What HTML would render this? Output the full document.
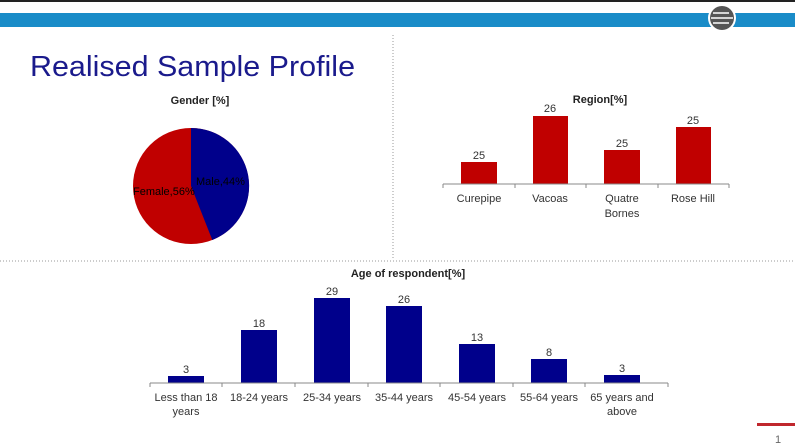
<!DOCTYPE html>
<html><head><style>
body{margin:0;background:#fff}
svg{display:block}
text{font-family:"Liberation Sans",sans-serif}
</style></head><body>
<svg width="795" height="447" viewBox="0 0 795 447">
<rect x="0" y="0" width="795" height="2" fill="#222"/>
<rect x="0" y="13" width="795" height="14" fill="#1a8cc8"/>
<circle cx="722" cy="18" r="14" fill="#fff"/>
<circle cx="722" cy="18" r="12" fill="#555"/>
<g stroke="#fff" stroke-width="1.5"><line x1="713" y1="13" x2="729" y2="13"/><line x1="711" y1="18" x2="733" y2="18"/><line x1="713" y1="23" x2="729" y2="23"/></g>
<line x1="393" y1="35" x2="393" y2="258" stroke="#999" stroke-dasharray="1,2"/>
<line x1="0" y1="261" x2="795" y2="261" stroke="#999" stroke-dasharray="1,2"/>
<text x="30" y="76" font-size="29" fill="#1a1a8c" textLength="325" lengthAdjust="spacingAndGlyphs">Realised Sample Profile</text>
<text x="200" y="104" font-size="11" font-weight="bold" text-anchor="middle" fill="#222">Gender [%]</text>
<circle cx="191" cy="186" r="58" fill="#c00000"/>
<path d="M191,186 L191,128 A58,58 0 0 1 212.3,240 Z" fill="#00008b"/>
<text x="196" y="185" font-size="11" fill="#000">Male,44%</text>
<text x="133" y="195" font-size="11" fill="#000">Female,56%</text>
<text x="600" y="103" font-size="11" font-weight="bold" text-anchor="middle" fill="#222">Region[%]</text>
<g fill="#c00000">
<rect x="461" y="162" width="36" height="22"/><rect x="533" y="116" width="35" height="68"/>
<rect x="604" y="150" width="36" height="34"/><rect x="676" y="127" width="35" height="57"/>
</g>
<g font-size="11" fill="#333" text-anchor="middle">
<text x="479" y="159">25</text><text x="550" y="112">26</text><text x="622" y="147">25</text><text x="693" y="124">25</text>
<text x="479" y="202">Curepipe</text><text x="550" y="202">Vacoas</text><text x="622" y="202">Quatre</text><text x="622" y="217">Bornes</text><text x="693" y="202">Rose Hill</text>
</g>
<g stroke="#888"><line x1="443" y1="184" x2="729" y2="184"/>
<line x1="443" y1="184" x2="443" y2="188"/><line x1="515" y1="184" x2="515" y2="188"/><line x1="586" y1="184" x2="586" y2="188"/><line x1="658" y1="184" x2="658" y2="188"/><line x1="729" y1="184" x2="729" y2="188"/></g>
<text x="408" y="277" font-size="11" font-weight="bold" text-anchor="middle" fill="#222">Age of respondent[%]</text>
<g fill="#00008b">
<rect x="168" y="376" width="36" height="7"/><rect x="241" y="330" width="36" height="53"/>
<rect x="314" y="298" width="36" height="85"/><rect x="386" y="306" width="36" height="77"/>
<rect x="459" y="344" width="36" height="39"/><rect x="531" y="359" width="36" height="24"/>
<rect x="604" y="375" width="36" height="8"/>
</g>
<g font-size="11" fill="#333" text-anchor="middle">
<text x="186" y="373">3</text><text x="259" y="327">18</text><text x="332" y="295">29</text><text x="404" y="303">26</text><text x="477" y="341">13</text><text x="549" y="356">8</text><text x="622" y="372">3</text>
<text x="186" y="401">Less than 18</text><text x="186" y="415">years</text>
<text x="259" y="401">18-24 years</text><text x="332" y="401">25-34 years</text><text x="404" y="401">35-44 years</text><text x="477" y="401">45-54 years</text><text x="549" y="401">55-64 years</text>
<text x="622" y="401">65 years and</text><text x="622" y="415">above</text>
</g>
<g stroke="#888"><line x1="150" y1="383" x2="668" y2="383"/>
<line x1="150" y1="383" x2="150" y2="387"/><line x1="222" y1="383" x2="222" y2="387"/><line x1="295" y1="383" x2="295" y2="387"/><line x1="368" y1="383" x2="368" y2="387"/><line x1="440" y1="383" x2="440" y2="387"/><line x1="513" y1="383" x2="513" y2="387"/><line x1="585" y1="383" x2="585" y2="387"/><line x1="668" y1="383" x2="668" y2="387"/></g>
<rect x="757" y="423" width="38" height="3" fill="#c0272d"/>
<text x="775" y="443" font-size="11" fill="#666">1</text>
</svg>
</body></html>
